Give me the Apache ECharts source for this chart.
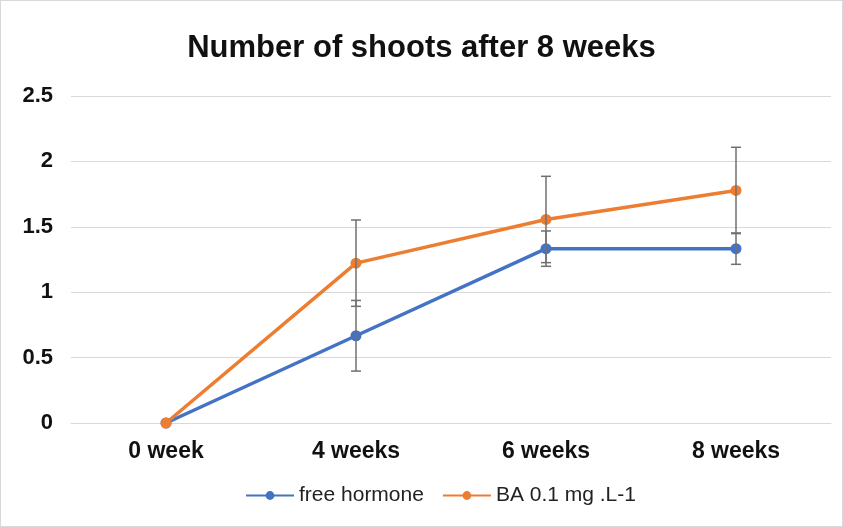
<!DOCTYPE html>
<html>
<head>
<meta charset="utf-8">
<script src="https://cdn.jsdelivr.net/npm/echarts@6/dist/echarts.min.js"></script>
<style>
  html, body { margin: 0; padding: 0; background: #fff; }
  #chart { width: 843px; height: 527px; box-sizing: border-box; border: 1px solid #d9d9d9; }
</style>
</head>
<body>
<div id="chart"></div>
<script>
const categories = ['0 week', '4 weeks', '6 weeks', '8 weeks']
const freeHormone = [0, 0.667, 1.333, 1.333]
const freeHormoneErr = [0, 0.27, 0.135, 0.12]
const baSeries = [0, 1.222, 1.556, 1.778]
const baErr = [0, 0.33, 0.33, 0.33]

const chart = echarts.init(document.getElementById('chart'))

function errData(vals, errs) {
  return vals.map((v, i) => [i, v - errs[i], v + errs[i]])
}

function renderErr(params, api) {
  if (api.value(2) - api.value(1) <= 0) return
  const x = api.value(0)
  const lo = api.coord([x, api.value(1)])
  const hi = api.coord([x, api.value(2)])
  const cap = 5
  const style = { stroke: '#707070', lineWidth: 1.5 }
  return {
    type: 'group',
    children: [
      { type: 'line', shape: { x1: hi[0], y1: hi[1], x2: lo[0], y2: lo[1] }, style },
      { type: 'line', shape: { x1: hi[0] - cap, y1: hi[1], x2: hi[0] + cap, y2: hi[1] }, style },
      { type: 'line', shape: { x1: lo[0] - cap, y1: lo[1], x2: lo[0] + cap, y2: lo[1] }, style },
    ],
  }
}

chart.setOption({
  title: {
    text: 'Number of shoots after 8 weeks',
    left: 'center',
    top: 27,
    textStyle: { fontFamily: 'Liberation Sans', fontSize: 31, fontWeight: 'bold', color: '#111' },
  },
  legend: {
    bottom: 15,
    left: 239,
    itemWidth: 48,
    itemHeight: 11,
    itemGap: 18,
    data: ['free hormone', 'BA 0.1 mg .L-1'],
    textStyle: { fontFamily: 'Liberation Sans', fontSize: 21, color: '#222' },
  },
  grid: { left: 70, right: 11, top: 95, bottom: 103 },
  xAxis: {
    type: 'category',
    data: categories,
    boundaryGap: true,
    axisLine: { lineStyle: { color: '#d9d9d9' } },
    axisTick: { show: false },
    axisLabel: { color: '#111', fontFamily: 'Liberation Sans', fontWeight: 'bold', fontSize: 23, margin: 17 },
  },
  yAxis: {
    type: 'value',
    min: 0,
    max: 2.5,
    interval: 0.5,
    axisLine: { show: false },
    axisTick: { show: false },
    splitLine: { lineStyle: { color: '#d9d9d9', width: 1 } },
    axisLabel: { color: '#111', fontFamily: 'Liberation Sans', fontWeight: 'bold', fontSize: 22, margin: 18 },
  },
  series: [
    {
      name: 'free hormone',
      type: 'line',
      data: freeHormone,
      color: '#4472C4',
      symbol: 'circle',
      symbolSize: 11,
      lineStyle: { width: 3.5 },
      z: 3,
    },
    {
      name: 'BA 0.1 mg .L-1',
      type: 'line',
      data: baSeries,
      color: '#ED7D31',
      symbol: 'circle',
      symbolSize: 11,
      lineStyle: { width: 3.5 },
      z: 3,
    },
    {
      type: 'custom',
      renderItem: renderErr,
      data: errData(freeHormone, freeHormoneErr),
      encode: { x: 0, y: [1, 2] },
      z: 4,
      silent: true,
    },
    {
      type: 'custom',
      renderItem: renderErr,
      data: errData(baSeries, baErr),
      encode: { x: 0, y: [1, 2] },
      z: 4,
      silent: true,
    },
  ],
})
</script>
</body>
</html>
